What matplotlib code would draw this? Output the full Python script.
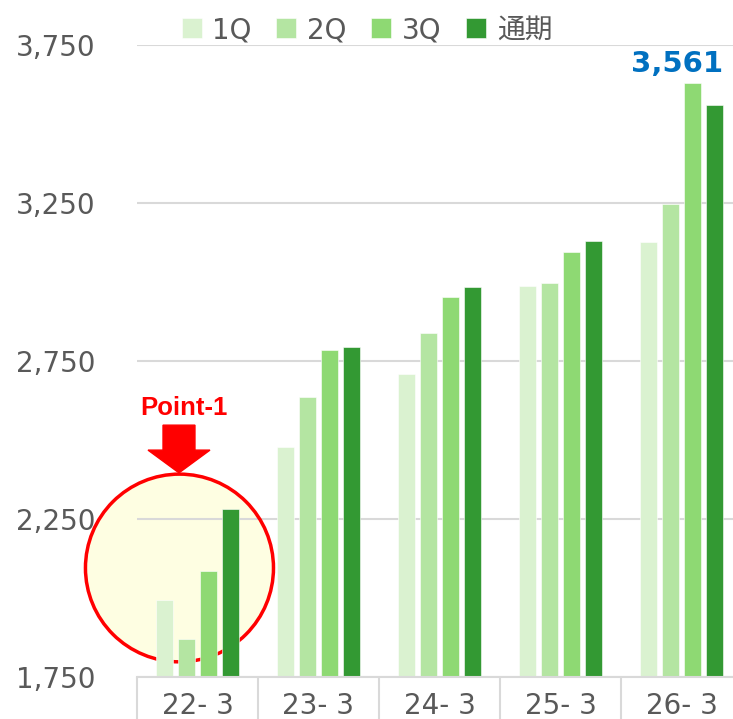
import numpy as np
import matplotlib.pyplot as plt
from matplotlib.patches import Ellipse, Polygon

plt.rcParams["font.family"] = ["DejaVu Sans", "Noto Sans CJK JP"]

categories = ["22- 3", "23- 3", "24- 3", "25- 3", "26- 3"]
series_names = ["1Q", "2Q", "3Q", "通期"]
q1 = [1995, 2478, 2708, 2988, 3127]
q2 = [1870, 2636, 2838, 2996, 3247]
q3 = [2085, 2786, 2953, 3096, 3631]
full_year = [2282, 2793, 2984, 3131, 3561]
colors = ["#daf2d0", "#b4e5a2", "#8ed973", "#339933"]
yticks = [1750, 2250, 2750, 3250, 3750]

text_gray = "#595959"
grid_gray = "#d9d9d9"

fig = plt.figure(figsize=(7.33, 7.19), dpi=100)
W, H = 733, 719
# axes spans 5 categories of ~121 px, running past the right edge like the original
ax = fig.add_axes([137 / W, 42 / H, 605 / W, 632 / H])

x = np.arange(len(categories))
step = 22 / 121
width = 17 / 121
for i, (vals, name, c) in enumerate(zip([q1, q2, q3, full_year], series_names, colors)):
    ax.bar(x + (i - 1.5) * step, vals, width, color=c, label=name, zorder=2,
           edgecolor="white", linewidth=0.4)

ax.set_xlim(-0.5, len(categories) - 0.5)
ax.set_ylim(1750, 3750)
ax.set_yticks(yticks)
ax.set_yticklabels([f"{v:,}" for v in yticks])
ax.yaxis.grid(True, color=grid_gray, lw=1.5, zorder=0.5)
ax.set_axisbelow(True)
ax.tick_params(axis="y", length=0, pad=30, labelsize=20, labelcolor=text_gray)

ax.set_xticks(x)
ax.set_xticklabels(categories)
ax.set_xticks(np.arange(len(categories) + 1) - 0.5, minor=True)
ax.tick_params(axis="x", which="major", length=0, pad=11, labelsize=20, labelcolor=text_gray)
ax.tick_params(axis="x", which="minor", length=31, width=1.5, color=grid_gray)

for s in ["top", "right", "left"]:
    ax.spines[s].set_visible(False)
ax.spines["bottom"].set_color(grid_gray)
ax.spines["bottom"].set_linewidth(1.5)

# highlight circle around the first group
cx, cy = -0.149, 2095
ax.add_patch(Ellipse((cx, cy), 2 * 0.777, 2 * 297, facecolor="#fefee2",
                     edgecolor="none", zorder=0.4, clip_on=False))
ax.add_patch(Ellipse((cx, cy), 2 * 0.777, 2 * 297, facecolor="none",
                     edgecolor="red", lw=2.5, zorder=1, clip_on=False))

# block arrow pointing down
ax_c = -0.153
sh, hh = 0.132, 0.256
arrow = Polygon([(ax_c - sh, 2547), (ax_c + sh, 2547), (ax_c + sh, 2468),
                 (ax_c + hh, 2468), (ax_c, 2396), (ax_c - hh, 2468),
                 (ax_c - sh, 2468)], closed=True, color="red", zorder=3, clip_on=False)
ax.add_patch(arrow)
ax.text(-0.11, 2601, "Point-1", color="red", fontsize=18.5, fontweight="bold",
        family="Liberation Sans", ha="center", va="center", zorder=3)

# value label for the final year
ax.annotate(f"{full_year[-1]:,}", xy=(x[-1] + 1.5 * step + width / 2, q3[-1]),
            xytext=(0, 3), textcoords="offset points", ha="right", va="bottom",
            color="#0070c0", fontsize=21, fontweight="bold")

fig.legend(loc="center", bbox_to_anchor=(367 / W, 1 - 30 / H), ncol=4, frameon=False,
           fontsize=20, handlelength=0.72, handleheight=0.72, handletextpad=0.38,
           columnspacing=0.9, labelcolor=text_gray, borderpad=0)

fig.savefig("out.png", dpi=100)
